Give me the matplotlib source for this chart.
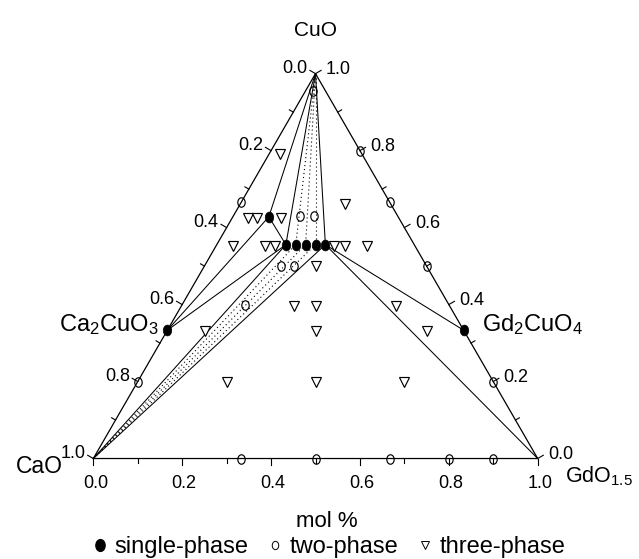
import numpy as np
import matplotlib.pyplot as plt
from matplotlib.path import Path
from matplotlib.transforms import Affine2D
from matplotlib.lines import Line2D

plt.rcParams['font.family'] = ['Liberation Sans', 'DejaVu Sans']
plt.rcParams['mathtext.fontset'] = 'custom'
plt.rcParams['mathtext.rm'] = 'Liberation Sans'
plt.rcParams['mathtext.it'] = 'Liberation Sans:italic'
plt.rcParams['mathtext.default'] = 'regular'

H = np.sqrt(3) / 2
PX = 1 / 444.4  # one pixel in data units

# compositions as (GdO1.5, CuO) mole fractions, CaO is the rest
single_gd = [0.0, 2 / 3, 0.081, 1.4 / 9, 1.6 / 9, 1.8 / 9, 2.0 / 9, 2.2 / 9]
single_cu = [1 / 3, 1 / 3, 0.628, 5 / 9, 5 / 9, 5 / 9, 5 / 9, 5 / 9]

two_gd = [0.016, 0.2, 0.0, 0.150, 0.182, 1 / 3, 0.172, 0.202, 0.5, 0.142,
          0.0, 0.8, 1 / 3, 0.5, 2 / 3, 0.8, 0.9]
two_cu = [0.955, 0.8, 2 / 3, 0.630, 0.630, 2 / 3, 0.5, 0.5, 0.5, 0.4,
          0.2, 0.2, 0.0, 0.0, 0.0, 0.0, 0.0]

three_gd = [0.026, 0.037, 0.057, 0.110, 0.237,
            0.039, 0.110, 0.133, 0.266, 0.290, 0.341,
            0.25, 0.253, 0.303, 0.484, 0.085, 0.336, 0.586, 0.2, 0.4, 0.6]
three_cu = [0.79, 0.624, 0.624, 0.624, 0.661,
            0.552, 0.552, 0.552, 0.552, 0.552, 0.552,
            0.5, 0.395, 0.395, 0.395, 0.331, 0.331, 0.331, 0.2, 0.2, 0.2]

pts = {
    'CuO': (0.0, 1.0), 'CaO': (0.0, 0.0), 'GdO': (1.0, 0.0),
    'Ca2CuO3': (single_gd[0], single_cu[0]), 'Gd2CuO4': (single_gd[1], single_cu[1]),
    'S': (single_gd[2], single_cu[2]),
    'D1': (single_gd[3], single_cu[3]), 'D2': (single_gd[4], single_cu[4]),
    'D3': (single_gd[5], single_cu[5]), 'D4': (single_gd[6], single_cu[6]),
    'D5': (single_gd[7], single_cu[7]),
}
solid_ties = [('CuO', 'S'), ('CuO', 'D1'), ('CuO', 'D5'), ('S', 'D1'), ('S', 'Ca2CuO3'),
              ('Ca2CuO3', 'D1'), ('CaO', 'D1'), ('CaO', 'D5'), ('D5', 'Gd2CuO4'),
              ('D5', 'GdO')]
dotted_ties = [('CuO', 'D2'), ('CuO', 'D3'), ('CuO', 'D4'),
               ('CaO', 'D2'), ('CaO', 'D3'), ('CaO', 'D4')]

tick_vals = np.round(np.arange(0, 1.01, 0.1), 1)


def tern(gd, cu):
    gd = np.asarray(gd, float)
    cu = np.asarray(cu, float)
    return gd + cu / 2, cu * H


fig = plt.figure(figsize=(6.39, 5.59), dpi=100)
ax = fig.add_axes([0, 0, 1, 1])
ax.set_xlim(-0.2100, 1.2280)
ax.set_ylim(-0.2261, 1.0317)
ax.axis('off')

# frame
fx, fy = tern([0, 1, 0, 0], [0, 0, 1, 0])
ax.plot(fx, fy, color='black', lw=0.9, solid_joinstyle='miter', zorder=3)

for a, b in solid_ties:
    x, y = tern([pts[a][0], pts[b][0]], [pts[a][1], pts[b][1]])
    ax.plot(x, y, color='black', lw=0.75, zorder=2)
for a, b in dotted_ties:
    x, y = tern([pts[a][0], pts[b][0]], [pts[a][1], pts[b][1]])
    ax.plot(x, y, color='black', lw=0.8, ls=(0, (1, 2.6)), zorder=2)

# ticks and tick labels
for t in tick_vals:
    major = int(round(t * 10)) % 2 == 0
    ln = (6.5 if major else 4.5) * PX
    # bottom: GdO1.5
    bx, by = t, 0.0
    ax.plot([bx, bx], [by, by - ln], color='black', lw=0.8, zorder=3)
    # left: CaO, 0 at top
    lx, ly = tern(0.0, 1 - t)
    ax.plot([lx, lx - H * ln], [ly, ly + 0.5 * ln], color='black', lw=0.8, zorder=3)
    # right: CuO, 0 at bottom
    rx, ry = tern(1 - t, t)
    ax.plot([rx, rx + H * ln], [ry, ry + 0.5 * ln], color='black', lw=0.8, zorder=3)
    if major:
        ax.text(bx + 2 * PX, by - 24.5 * PX, f'{t:.1f}', ha='center', va='center', fontsize=13)
        ax.text(lx - 8 * PX, ly + 5 * PX, f'{t:.1f}', ha='right', va='center', fontsize=13)
        ax.text(rx + 10.5 * PX, ry + 4.5 * PX, f'{t:.1f}', ha='left', va='center', fontsize=13)

ell = Path.unit_circle().transformed(Affine2D().scale(0.78, 1.0))

x, y = tern(three_gd, three_cu)
ax.plot(x, y, ls='none', marker='v', ms=7, mfc='white', mec='black', mew=0.85, zorder=4)
x, y = tern(two_gd, two_cu)
ax.plot(x, y, ls='none', marker=ell, ms=6.8, mfc='none', mec='black', mew=0.85, zorder=4)
x, y = tern(single_gd, single_cu)
ax.plot(x, y, ls='none', marker=ell, ms=7.8, mfc='black', mec='black', mew=0.5, zorder=5)

# corner and compound labels
cx, cy = tern(0, 1)
ax.text(cx, cy + 43.5 * PX, 'CuO', ha='center', va='center', fontsize=15)
ax.text(-30 * PX, -14 * PX, 'CaO', ha='right', va='baseline', fontsize=16.5)
ax.text(1 + 27 * PX, -24 * PX, 'GdO$_{1.5}$', ha='left', va='baseline', fontsize=15.5)
px_, py_ = tern(single_gd[0], single_cu[0])
ax.text(px_ - 9 * PX, py_ - 1 * PX, 'Ca$_2$CuO$_3$', ha='right', va='baseline', fontsize=17)
qx, qy = tern(single_gd[1], single_cu[1])
ax.text(qx + 18 * PX, qy - 1 * PX, 'Gd$_2$CuO$_4$', ha='left', va='baseline', fontsize=17)

ax.text(0.525, -68.5 * PX, 'mol %', ha='center', va='baseline', fontsize=16)

handles = [
    Line2D([], [], ls='none', marker=ell, ms=8.5, mfc='black', mec='black'),
    Line2D([], [], ls='none', marker=ell, ms=6, mfc='none', mec='black', mew=0.7),
    Line2D([], [], ls='none', marker='v', ms=5.5, mfc='none', mec='black', mew=0.7),
]
fig.legend(handles, ['single-phase', 'two-phase', 'three-phase'], ncol=3, frameon=False,
           loc='center', bbox_to_anchor=(329.5 / 639, 1 - 547 / 559), fontsize=17,
           handlelength=0.5, handletextpad=0.35, columnspacing=0.9, borderpad=0.1)

fig.savefig('out.png', dpi=100)
